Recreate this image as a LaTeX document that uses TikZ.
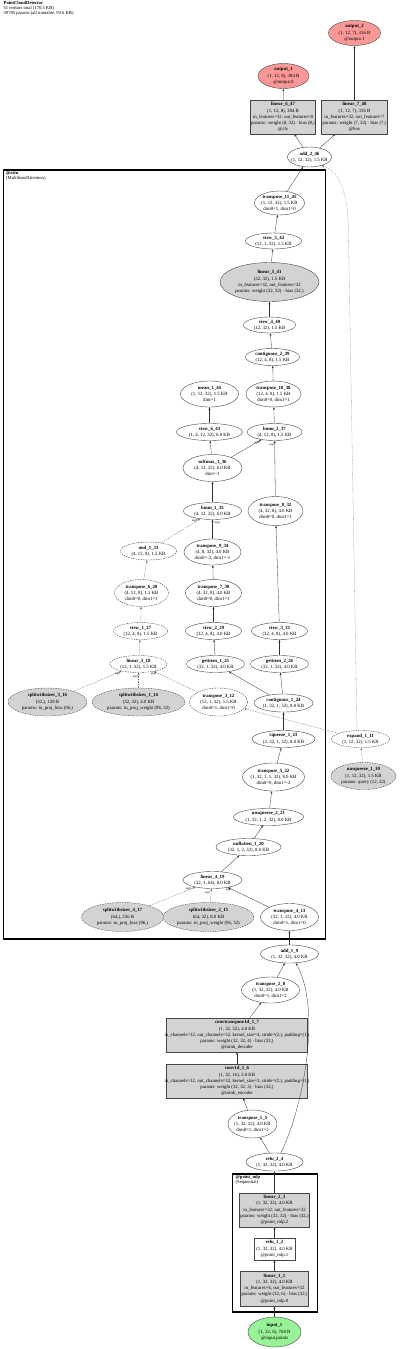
\documentclass[tikz,border=0pt]{standalone}
\usepackage{fontspec}
\setmainfont{Liberation Serif}
\usetikzlibrary{shapes.geometric,arrows.meta}
\definecolor{gfill}{RGB}{211,211,211}
\definecolor{ofill}{RGB}{250,152,152}
\definecolor{ifill}{RGB}{152,242,152}
\definecolor{lcol}{RGB}{70,70,70}
\definecolor{ecol}{RGB}{50,50,50}
\definecolor{dcol}{RGB}{110,110,110}
\tikzset{
  txt/.style={font=\fontsize{4.8}{6.2}\selectfont, align=center, inner sep=0pt},
  ttl/.style={font=\fontsize{4.6}{4.6}\selectfont, align=left, inner sep=0pt},
  clab/.style={font=\fontsize{4.6}{4.4}\selectfont, align=left, inner sep=0pt},
  elab/.style={font=\fontsize{3}{3}\selectfont, inner sep=0pt},
  ell/.style={ellipse, draw=lcol, line width=0.4pt, inner sep=0pt},
  elld/.style={ell, dash pattern=on 1.5pt off 1pt},
  ellg/.style={ell, fill=gfill},
  ellgd/.style={ellg, dash pattern=on 1.5pt off 1pt},
  ello/.style={ell, fill=ofill},
  elli/.style={ell, fill=ifill},
  boxg/.style={rectangle, draw=lcol, line width=0.4pt, fill=gfill, inner sep=0pt},
  boxw/.style={rectangle, draw=lcol, line width=0.4pt, fill=white, inner sep=0pt},
  clus/.style={rectangle, draw=black, line width=1.6pt, inner sep=0pt},
  e/.style={draw=ecol, line width=0.3pt, -{Stealth[length=2.6pt,width=2pt]}},
  ed/.style={e, draw=dcol, dash pattern=on 1.5pt off 1pt},
  edot/.style={e, draw=dcol, dash pattern=on 0.8pt off 1pt},
}
\newcommand\ND[7]{\node[#1,minimum width=#5pt,minimum height=#6pt] (#2) at (#3,#4) {};\node[txt] (#2-t) at (#2.center) {#7};}
\begin{document}
\begin{tikzpicture}[x=1pt,y=-1pt]
\useasboundingbox (0,0) rectangle (400,1349);
\fill[white] (0,0) rectangle (400,1349);
\begin{scope}[shift={(0.5,0)}]
% title
\node[ttl, anchor=north west] (title) at (3,1.5) {\textbf{PointCloudDetector}\\51 tensors total (170.5 KB)\\39785 params (all trainable, 93.6 KB)};
% clusters
\node[clus, minimum width=322pt, minimum height=769pt] (attn) at (164,554.5) {};
\node[clab, anchor=north west] (attn-l) at (5.5,171.5) {\textbf{@attn}\\(MultiheadAttention)};
\node[clus, minimum width=85pt, minimum height=138pt] (pmlp) at (274.5,1243) {};
\node[clab, anchor=north west] (pmlp-l) at (235,1175.5) {\textbf{@point\_mlp}\\(Sequential)};
% nodes
\ND{ello}{out2}{354}{33}{52}{25}{\textbf{output\_2}\\(1, 12, 7), 336 B\\@output.1}
\ND{ello}{out1}{283}{76}{51}{25}{\textbf{output\_1}\\(1, 12, 8), 384 B\\@output.0}
\ND{boxg}{lin6}{282.5}{117}{65}{34}{\textbf{linear\_6\_47}\\(1, 12, 8), 384 B\\in\_features=32, out\_features=8\\params: weight (8, 32) · bias (8,)\\@cls}
\ND{boxg}{lin7}{354}{117}{66}{34}{\textbf{linear\_7\_48}\\(1, 12, 7), 336 B\\in\_features=32, out\_features=7\\params: weight (7, 32) · bias (7,)\\@box}
\ND{ell}{add2}{309}{157}{44}{20}{\textbf{add\_2\_46}\\(1, 12, 32), 1.5 KB}
\ND{ell}{tr11}{279}{203}{50}{24}{\textbf{transpose\_11\_45}\\(1, 12, 32), 1.5 KB\\dim0=1, dim1=0}
\ND{ell}{vw5}{273}{241}{56}{16}{\textbf{view\_5\_42}\\(12, 1, 32), 1.5 KB}
\ND{ellg}{lin5}{269}{282}{99}{39}{\textbf{linear\_5\_41}\\(32, 32), 1.5 KB\\in\_features=32, out\_features=32\\params: weight (32, 32) · bias (32,)}
\ND{ell}{vw4}{269}{325}{52}{16}{\textbf{view\_4\_40}\\(12, 32), 1.5 KB}
\ND{ell}{cont2}{272}{357}{54}{17}{\textbf{contiguous\_2\_39}\\(12, 4, 8), 1.5 KB}
\ND{ell}{tr10}{273}{394}{55}{26}{\textbf{transpose\_10\_38}\\(12, 4, 8), 1.5 KB\\dim0=0, dim1=1}
\ND{ell}{mean1}{209}{394}{58}{26}{\textbf{mean\_1\_44}\\(1, 12, 32), 1.5 KB\\dim=1}
\ND{ell}{vw6}{209}{432}{66}{17}{\textbf{view\_6\_43}\\(1, 4, 12, 32), 6.0 KB}
\ND{ell}{bmm2}{274}{432}{55}{17}{\textbf{bmm\_2\_37}\\(4, 12, 8), 1.5 KB}
\ND{ell}{soft1}{212}{468}{59}{27}{\textbf{softmax\_1\_36}\\(4, 12, 32), 6.0 KB\\dim=-1}
\ND{ell}{bmm1}{212}{511}{58}{17}{\textbf{bmm\_1\_35}\\(4, 12, 32), 6.0 KB}
\ND{ell}{tr8}{275}{511}{55}{29}{\textbf{transpose\_8\_32}\\(4, 32, 8), 4.0 KB\\dim0=0, dim1=1}
\ND{elld}{mul1}{148}{551}{56}{18}{\textbf{mul\_1\_33}\\(4, 12, 8), 1.5 KB}
\ND{ell}{tr9}{212}{552}{57}{26}{\textbf{transpose\_9\_34}\\(4, 8, 32), 4.0 KB\\dim0=-2, dim1=-1}
\ND{elld}{tr6}{141}{593}{54}{27}{\textbf{transpose\_6\_28}\\(4, 12, 8), 1.5 KB\\dim0=0, dim1=1}
\ND{ell}{tr7}{213}{593}{56}{27}{\textbf{transpose\_7\_30}\\(4, 32, 8), 4.0 KB\\dim0=0, dim1=1}
\ND{elld}{vw1}{140}{631}{54}{17}{\textbf{view\_1\_27}\\(12, 4, 8), 1.5 KB}
\ND{ell}{vw2}{213}{631}{56}{17}{\textbf{view\_2\_29}\\(32, 4, 8), 4.0 KB}
\ND{ell}{vw3}{279}{631}{56}{17}{\textbf{view\_3\_31}\\(32, 4, 8), 4.0 KB}
\ND{elld}{lin3}{138}{664}{57}{17}{\textbf{linear\_3\_18}\\(12, 1, 32), 1.5 KB}
\ND{ell}{get1}{215}{664}{58}{17}{\textbf{getitem\_1\_25}\\(32, 1, 32), 4.0 KB}
\ND{ell}{get2}{279}{664}{58}{17}{\textbf{getitem\_2\_26}\\(32, 1, 32), 4.0 KB}
\ND{ellgd}{spl3}{47}{702}{79}{28}{\textbf{splitwithsizes\_3\_16}\\(32,), 128 B\\params: in\_proj\_bias (96,)}
\ND{ellgd}{spl1}{138}{702}{93}{28}{\textbf{splitwithsizes\_1\_14}\\(32, 32), 4.0 KB\\params: in\_proj\_weight (96, 32)}
\ND{elld}{tr3}{218}{702}{58}{28}{\textbf{transpose\_3\_12}\\(12, 1, 32), 1.5 KB\\dim0=1, dim1=0}
\ND{ell}{cont1}{283}{703}{59}{18}{\textbf{contiguous\_1\_24}\\(1, 32, 1, 32), 8.0 KB}
\ND{ell}{sq1}{283}{739}{63}{17}{\textbf{squeeze\_1\_23}\\(2, 32, 1, 32), 8.0 KB}
\ND{elld}{exp1}{360}{739}{58}{17}{\textbf{expand\_1\_11}\\(1, 12, 32), 1.5 KB}
\ND{ellgd}{unsq1}{363}{776}{65}{27}{\textbf{unsqueeze\_1\_10}\\(1, 12, 32), 1.5 KB\\params: query (12, 32)}
\ND{ell}{tr5}{273}{777}{62}{28}{\textbf{transpose\_5\_22}\\(1, 32, 1, 1, 32), 8.0 KB\\dim0=0, dim1=-2}
\ND{ell}{unsq2}{268}{817}{70}{17}{\textbf{unsqueeze\_2\_21}\\(1, 32, 1, 2, 32), 8.0 KB}
\ND{ell}{unfl1}{248}{847}{65}{17}{\textbf{unflatten\_1\_20}\\(32, 1, 2, 32), 8.0 KB}
\ND{ell}{lin4}{212}{880}{59}{17}{\textbf{linear\_4\_19}\\(32, 1, 64), 8.0 KB}
\ND{ellgd}{spl4}{122}{917}{82}{29}{\textbf{splitwithsizes\_4\_17}\\(64,), 256 B\\params: in\_proj\_bias (96,)}
\ND{ellgd}{spl2}{208}{917}{91}{29}{\textbf{splitwithsizes\_2\_15}\\(64, 32), 8.0 KB\\params: in\_proj\_weight (96, 32)}
\ND{ell}{tr4}{289}{917}{58}{27}{\textbf{transpose\_4\_13}\\(32, 1, 32), 4.0 KB\\dim0=1, dim1=0}
\ND{ell}{add1}{289}{954}{58}{18}{\textbf{add\_1\_9}\\(1, 32, 32), 4.0 KB}
\ND{ell}{tr2}{270}{990}{58}{26}{\textbf{transpose\_2\_8}\\(1, 32, 32), 4.0 KB\\dim0=1, dim1=2}
\ND{boxg}{convt}{236.5}{1035}{141}{34}{\textbf{convtranspose1d\_1\_7}\\(1, 32, 32), 4.0 KB\\in\_channels=32, out\_channels=32, kernel\_size=4, stride=(2,), padding=(1,)\\params: weight (32, 32, 4) · bias (32,)\\@mink\_decoder}
\ND{boxg}{conv}{236.5}{1081}{141}{34}{\textbf{conv1d\_1\_6}\\(1, 32, 16), 2.0 KB\\in\_channels=32, out\_channels=32, kernel\_size=3, stride=(2,), padding=(1,)\\params: weight (32, 32, 3) · bias (32,)\\@mink\_encoder}
\ND{ell}{tr1}{252}{1124}{49}{28}{\textbf{transpose\_1\_5}\\(1, 32, 32), 4.0 KB\\dim0=1, dim1=2}
\ND{ell}{relu2}{274}{1162}{57}{18}{\textbf{relu\_2\_4}\\(1, 32, 32), 4.0 KB}
\ND{boxg}{lin2}{274}{1210}{70}{34}{\textbf{linear\_2\_3}\\(1, 32, 32), 4.0 KB\\in\_features=32, out\_features=32\\params: weight (32, 32) · bias (32,)\\@point\_mlp.2}
\ND{boxw}{relu1}{274}{1249}{41}{22}{\textbf{relu\_1\_2}\\(1, 32, 32), 4.0 KB\\@point\_mlp.1}
\ND{boxg}{lin1}{274}{1288.5}{68}{35}{\textbf{linear\_1\_1}\\(1, 32, 32), 4.0 KB\\in\_features=6, out\_features=32\\params: weight (32, 6) · bias (32,)\\@point\_mlp.0}
\ND{elli}{inp}{274}{1332}{53}{30}{\textbf{input\_1}\\(1, 32, 6), 768 B\\@input.points}
% edges
\draw[e] (inp) -- (lin1);
\draw[e] (lin1) -- (relu1);
\draw[e] (relu1) -- (lin2);
\draw[e] (lin2) -- (relu2);
\draw[e] (relu2) -- (tr1);
\draw[e] (relu2.55) .. controls (302,1110) and (322,1010) .. (add1.-55);
\draw[e] (tr1) -- (conv);
\draw[e] (conv) -- (convt);
\draw[e] (convt) -- (tr2);
\draw[e] (tr2) -- (add1);
\draw[e] (add1) -- (tr4);
\draw[e] (tr4) -- (lin4);
\draw[ed] (spl2) -- (lin4);
\draw[ed] (spl4) -- (lin4);
\draw[e] (lin4) -- (unfl1);
\draw[e] (unfl1) -- (unsq2);
\draw[e] (unsq2) -- (tr5);
\draw[e] (tr5) -- (sq1);
\draw[e] (sq1) -- (cont1);
\draw[e] (cont1) -- (get1);
\draw[e] (cont1) -- (get2);
\draw[e] (get1) -- (vw2);
\draw[e] (get2) -- (vw3);
\draw[e] (vw2) -- (tr7);
\draw[e] (vw3) -- (tr8);
\draw[e] (tr7) -- (tr9);
\draw[e] (tr9) -- (bmm1);
\draw[ed] (unsq1) -- (exp1);
\draw[ed] (exp1) -- (tr3);
\draw[edot] (exp1.112) -- (348,235) .. controls (348,195) and (340,172) .. (add2.-35);
\draw[ed] (tr3) -- (lin3);
\draw[ed] (spl1) -- (lin3);
\draw[ed] (spl3) -- (lin3);
\draw[ed] (lin3) -- (vw1);
\draw[ed] (vw1) -- (tr6);
\draw[ed] (tr6) -- (mul1);
\draw[ed] (mul1) -- (bmm1);
\draw[e] (bmm1) -- (soft1);
\draw[e] (soft1) -- (bmm2);
\draw[e] (tr8) -- (bmm2);
\draw[e] (soft1) -- (vw6);
\draw[e] (vw6) -- (mean1);
\draw[e] (bmm2) -- (tr10);
\draw[e] (tr10) -- (cont2);
\draw[e] (cont2) -- (vw4);
\draw[e] (vw4) -- (lin5);
\draw[e] (lin5) -- (vw5);
\draw[e] (vw5) -- (tr11);
\draw[e] (tr11) -- (add2);
\draw[e] (add2) -- (lin6);
\draw[e] (add2) -- (lin7);
\draw[e] (lin6) -- (out1);
\draw[e] (lin7) -- (out2);
% edge labels
\node[elab] (lb1) at (256.5,443) {arg0};
\node[elab] (lb2) at (271.5,444.5) {arg1};
\node[elab] (lb3) at (194,521) {arg0};
\node[elab] (lb4) at (217,523) {arg1};
\node[elab] (lb5) at (117,674) {arg2};
\node[elab] (lb6) at (135,677) {arg1};
\node[elab] (lb7) at (153,674) {arg0};
\node[elab] (lb8) at (188,889) {arg2};
\node[elab] (lb9) at (207,893) {arg1};
\node[elab] (lb10) at (228,890) {arg0};
\end{scope}
\end{tikzpicture}
\end{document}
